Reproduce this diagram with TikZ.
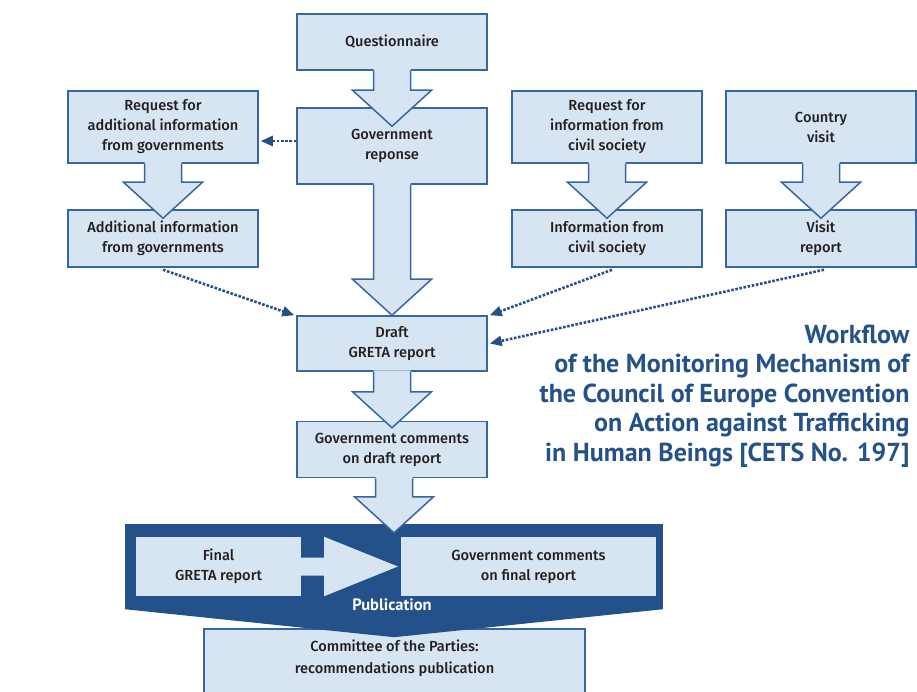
\documentclass[tikz,border=0pt]{standalone}
\usepackage{fontspec}
\setmainfont{PT Sans}
\newfontfamily\boxfont{Fira Sans}[UprightFont={* Medium}]
\usetikzlibrary{arrows.meta,calc}
\definecolor{boxfill}{HTML}{D7E4F2}
\definecolor{boxline}{HTML}{3767A0}
\definecolor{navy}{HTML}{245189}
\definecolor{ink}{HTML}{231F20}
\tikzset{
  box/.style={draw=boxline,fill=boxfill,line width=1.5pt,minimum width=190pt,
    align=center,text=ink,font=\boxfont\fontsize{14.6}{20}\selectfont,inner sep=0pt},
  inbox/.style={fill=boxfill,align=center,text=ink,
    font=\boxfont\fontsize{14.6}{20}\selectfont,inner sep=0pt},
  dotline/.style={draw=navy,line width=2.6pt,dash pattern=on 2.6pt off 1.6pt},
}
% block arrow: from node, to node, how far the tip runs into the target
\newcommand\blockarrow[3]{%
  \coordinate (t) at ([yshift=-#3pt]#2.north);
  \coordinate (s) at (#1.south -| t);
  \fill[boxfill] ([xshift=-18.5pt,yshift=1.5pt]s) -- ([xshift=-18.5pt,yshift=36pt]t)
    -- ([xshift=-39.5pt,yshift=36pt]t) -- (t) -- ([xshift=39.5pt,yshift=36pt]t)
    -- ([xshift=18.5pt,yshift=36pt]t) -- ([xshift=18.5pt,yshift=1.5pt]s) -- cycle;
  \draw[boxline,line width=1.5pt] ([xshift=-18.5pt]s) -- ([xshift=-18.5pt,yshift=36pt]t)
    -- ([xshift=-39.5pt,yshift=36pt]t) -- (t) -- ([xshift=39.5pt,yshift=36pt]t)
    -- ([xshift=18.5pt,yshift=36pt]t) -- ([xshift=18.5pt]s);
}
\begin{document}
\begin{tikzpicture}[x=1pt,y=-1pt,>={Triangle[length=12pt,width=10pt]}]
  \clip (0,0) rectangle (917,692);
  % boxes
  \node[box,minimum height=56pt] (quest) at (392,42) {Questionnaire};
  \node[box,minimum height=76pt] (govresp) at (392,146) {Government\\reponse};
  \node[box,minimum height=72pt] (reqgov) at (163,127) {Request for\\additional information\\from governments};
  \node[box,minimum height=57pt] (addgov) at (163,238.5) {Additional information\\from governments};
  \node[box,minimum height=72pt] (reqcivil) at (607,127) {Request for\\information from\\civil society};
  \node[box,minimum height=57pt] (infocivil) at (607,238.5) {Information from\\civil society};
  \node[box,minimum height=72pt] (visit) at (821,127) {Country\\visit};
  \node[box,minimum height=57pt] (visitrep) at (821,238.5) {Visit\\report};
  \node[box,minimum height=55pt] (draft) at (392,343.5) {Draft\\GRETA report};
  \node[box,minimum height=56pt] (comments) at (392,449.5) {Government comments\\on draft report};
  \node[box,minimum width=381pt,minimum height=120pt] (committee) at (394.5,689) {};
  \node[text=ink,align=center,font=\boxfont\fontsize{14.6}{22}\selectfont] (committeetext) at (394.5,658.5)
    {Committee of the Parties:\\recommendations publication};
  % publication frame
  \node[fill=navy,minimum width=538pt,minimum height=85pt,inner sep=0pt] (pub) at (394,566.5) {};
  \fill[navy] (pub.south west) -- ([yshift=-28pt]pub.south) -- (pub.south east) -- cycle;
  \node[inbox,minimum width=165pt,minimum height=59pt] (finalrep) at (218.5,566.5) {Final\\GRETA report};
  \node[inbox,minimum width=255pt,minimum height=59pt] (finalcom) at (528.5,566.5) {Government comments\\on final report};
  \fill[boxfill] ([xshift=-1pt,yshift=9pt]finalrep.east) -- ([xshift=23pt,yshift=9pt]finalrep.east)
    -- ([xshift=23pt]finalrep.north east) -- ([xshift=-3pt]finalcom.west)
    -- ([xshift=23pt]finalrep.south east) -- ([xshift=23pt,yshift=-9pt]finalrep.east)
    -- ([xshift=-1pt,yshift=-9pt]finalrep.east) -- cycle;
  \node[text=white,font=\fontsize{16.5}{18}\selectfont\bfseries] (publabel) at (392,605) {Publication};
  % block arrows
  \blockarrow{quest}{govresp}{19}
  \blockarrow{govresp}{draft}{0}
  \blockarrow{reqgov}{addgov}{9}
  \blockarrow{reqcivil}{infocivil}{9}
  \blockarrow{visit}{visitrep}{9}
  \blockarrow{draft}{comments}{7}
  \blockarrow{comments}{pub}{9}
  % dotted links
  \coordinate (askpt) at ([yshift=5pt]govresp.west);
  \draw[dotline,->] (askpt) -- ($(askpt -| reqgov.east)+(2,0)$);
  \draw[dotline,->] ([yshift=-2pt]addgov.south) -- ([xshift=-2pt]draft.north west);
  \draw[dotline,->] ([xshift=5pt,yshift=-2pt]infocivil.south) -- ([xshift=2pt]draft.north east);
  \draw[dotline,->] ([xshift=3pt,yshift=-2pt]visitrep.south) -- ([xshift=2pt]draft.east);
  % title
  \node[anchor=east,align=right,text=navy,font=\fontsize{26}{29.5}\selectfont\bfseries] (title) at (913,396)
    {Workflow\\of the Monitoring Mechanism of\\the Council of Europe Convention\\on Action against Trafficking\\in Human Beings [CETS No. 197]};
\end{tikzpicture}
\end{document}
